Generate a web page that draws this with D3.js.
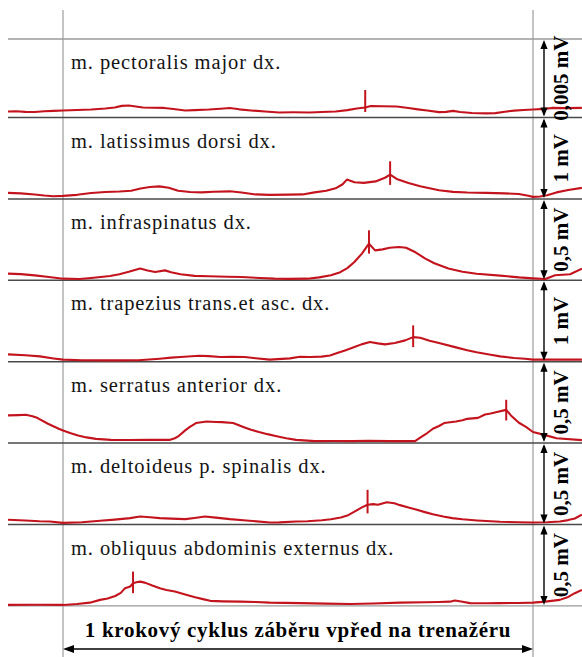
<!DOCTYPE html>
<html>
<head>
<meta charset="utf-8">
<script src="https://cdn.jsdelivr.net/npm/d3@7"></script>
<style>
  html, body { margin: 0; padding: 0; background: #fff; }
  svg { display: block; }
</style>
</head>
<body>
<svg id="chart" width="582" height="657"></svg>
<script>
// Muscle names, one EMG envelope per row
const muscles = [
  "m. pectoralis major dx.",
  "m. latissimus dorsi dx.",
  "m. infraspinatus dx.",
  "m. trapezius trans.et asc. dx.",
  "m. serratus anterior dx.",
  "m. deltoideus p. spinalis dx.",
  "m. obliquus abdominis externus dx."
];

// Calibration bar of each row (full row height), text and value in µV
const scaleLabels = ["0,005 mV", "1 mV", "0,5 mV", "1 mV", "0,5 mV", "0,5 mV", "0,5 mV"];
const scaleMicroV = [5, 1000, 500, 1000, 500, 500, 500];

// Envelopes: [% of stroke cycle, amplitude in µV]
const pectoralis = [[-11.7,0.38],[-10,0.40],[-8,0.36],[-6,0.35],[-4,0.40],[-2,0.42],[0,0.45],[3,0.48],[6,0.51],[9,0.57],[11,0.64],[12.5,0.74],[14,0.76],[15.5,0.70],[17,0.64],[19,0.62],[21.5,0.61],[23.5,0.54],[26,0.45],[28,0.47],[31,0.51],[33.5,0.56],[35.5,0.61],[37.5,0.52],[40,0.45],[43,0.38],[46,0.32],[49,0.33],[52.5,0.32],[55,0.35],[58,0.38],[60.5,0.47],[62.5,0.57],[64.3,0.64],[65.5,0.73],[68,0.72],[71,0.70],[73.5,0.60],[75.5,0.52],[77.5,0.45],[80,0.34],[81.5,0.36],[83,0.42],[84.5,0.35],[87,0.29],[90,0.26],[92,0.28],[94,0.37],[96,0.44],[98,0.48],[100,0.51],[102.5,0.55],[104,0.61],[107,0.60],[110.4,0.61]];

const latissimus = [[-11.7,74],[-9,68],[-6,55],[-4,42],[-2,32],[0,37],[3,50],[6,72],[9,84],[12,90],[14.5,100],[16.5,128],[18.5,147],[20.5,154],[22.5,138],[24.5,100],[27,84],[29.5,80],[32,88],[35.5,93],[38,78],[41,55],[44,50],[48,52],[51,55],[53.5,80],[56,100],[58,130],[59.5,180],[60.4,237],[62,205],[64,197],[66.5,215],[68.5,260],[69.6,299],[71,245],[73.5,195],[76,155],[78,130],[80,106],[83,86],[86,78],[90,74],[94,68],[97,61],[99,38],[100,25],[101.5,30],[103,45],[105,80],[107.5,110],[110.4,135]];

const infraspinatus = [[-11.7,41],[-9,38],[-6,30],[-3,20],[0,10],[3.5,8],[6,14],[8,20],[10,26],[12,37],[14,52],[16.4,72],[18,60],[19.6,51],[21.7,61],[23,50],[25,37],[28,27],[31,25],[35,22],[38,20],[42,14],[45,10],[48,9],[52,10],[54.5,18],[57,31],[59,50],[60.5,75],[62,112],[63.6,164],[65.1,225],[66.4,184],[68,190],[69.5,200],[71.5,205],[73,200],[75,172],[77,135],[79,105],[82,72],[85,52],[88,40],[93,29],[97,18],[100,12],[102.6,8],[104.7,31],[107.9,37],[110.4,72]];

const trapezius = [[-11.7,90],[-8,80],[-4.9,65],[-2,40],[0,25],[4,18],[8,16],[12,16],[16,18],[20.6,37],[23,50],[25,58],[29,74],[31,68],[33.5,58],[36,60],[38.7,58],[41,42],[44,25],[48.3,41],[50.4,60],[52.6,58],[55,62],[56.8,77],[58.5,110],[60,139],[62,180],[63.5,213],[65.3,241],[67,225],[68.5,213],[70.6,229],[72.8,262],[74.5,302],[76,295],[78,258],[80,230],[83.4,179],[86,140],[88,115],[91,85],[93,65],[96,45],[98.3,37],[100,25],[104,25],[110.4,25]];

const serratus = [[-11.7,170],[-9.5,172],[-7.9,174],[-6.5,165],[-5.5,155],[-3.2,119],[-0.9,88],[0,78],[1.5,62],[3.2,47],[5,35],[7,26],[10.2,20],[14,19],[18.1,20],[22.8,20],[23.8,30],[24.5,41],[26,78],[27,100],[28.3,123],[30.6,133],[32.5,130],[33.8,129],[36.2,123],[38.5,98],[40,82],[41.7,68],[43.5,55],[45.7,41],[47.5,30],[49.6,20],[53.6,12],[58,13],[61.5,12],[65,14],[69.4,12],[72,12],[74.9,12],[76.4,41],[77.5,62],[78.7,88],[80,105],[81.1,123],[83.6,133],[85,140],[86,149],[88.3,155],[89.8,176],[91,182],[92.1,190],[94.3,204],[95.3,170],[97,125],[98.5,100],[100,68],[102.6,49],[105,30],[110.4,18]];

const deltoideus = [[-11.7,29],[-8,25],[-5,20],[-2.8,18],[0,10],[4,14],[7.9,23],[11,30],[14.3,39],[16.4,49],[18.5,45],[20.6,39],[23,36],[26,33],[28,40],[30.2,49],[32.5,42],[35.5,33],[39,25],[44,12],[46,13],[49.6,18],[52,20],[55.1,26],[57,32],[59.1,43],[60.5,55],[62.3,84],[63.6,105],[64.8,121],[66,125],[67,121],[68.9,137],[70.5,130],[71.7,119],[73.5,105],[75.3,90],[77,76],[78.7,63],[80.9,49],[82.8,39],[85,32],[88.1,25],[93,17],[97,14],[100,12],[103,14],[105.7,18],[107.5,27],[108.9,37],[110.4,61]];

const obliquus = [[-11.7,6],[-6,7],[0,6],[3,12],[5.7,20],[7.9,37],[9.5,45],[11.1,61],[12.3,80],[13.2,109],[14.3,119],[14.9,139],[15.6,145],[16.4,149],[17.4,143],[19,125],[20.6,109],[22,98],[23.8,88],[26,70],[28.1,53],[30,40],[31.3,31],[34,28],[37.7,26],[41,24],[44,20],[50.4,17],[56,14],[61.1,12],[66,15],[71.7,20],[77,22],[80,24],[82.3,26],[83.4,33],[85,25],[86.6,17],[90,16],[93,17],[97,18],[100,20],[102.6,26],[105.7,37],[107.5,55],[108.9,78],[110.4,98]];

const traces = [pectoralis, latissimus, infraspinatus, trapezius, serratus, deltoideus, obliquus];

// Event markers on each envelope: position (% cycle), lower and upper end (µV)
const tickPos  = [64.3, 69.6, 65.1, 74.5, 94.3, 64.8, 14.9];
const tickLow  = [0.35, 172, 164, 179, 139, 68, 78];
const tickHigh = [1.75, 462, 307, 446, 266, 213, 211];

const cycleLabel = "1 krokový cyklus záběru vpřed na trenažéru";

// ---- layout ----
const W = 582, H = 657;
const svg = d3.select("#chart");
const serif = "'Liberation Serif', 'Times New Roman', serif";
const traceColor = "#c3141e";

// Row boundaries: first row is a bit shorter, the others equal
const rowEdges = [39];
for (let i = 0; i < muscles.length; i++) rowEdges.push(117.5 + 81.4 * i);

const x = d3.scaleLinear().domain([0, 100]).range([63, 533]);

// vertical cycle boundaries
[0, 100].forEach(v => {
  svg.append("line")
    .attr("x1", x(v)).attr("x2", x(v))
    .attr("y1", 10).attr("y2", H)
    .attr("stroke", "#8a8a8a").attr("stroke-width", 1);
});

// row separators
rowEdges.forEach((y, i) => {
  const outer = (i === 0 || i === rowEdges.length - 1);
  svg.append("line")
    .attr("x1", 8).attr("x2", W)
    .attr("y1", y).attr("y2", y)
    .attr("stroke", outer ? "#9a9a9a" : "#4a4a4a")
    .attr("stroke-width", outer ? 1.4 : 1.5);
});

const line = d3.line().curve(d3.curveLinear);

function vArrow(g, xPos, y1, y2, len, half) {
  g.append("line").attr("x1", xPos).attr("x2", xPos)
    .attr("y1", y1 + 2).attr("y2", y2 - 2)
    .attr("stroke", "#000").attr("stroke-width", 1.4);
  g.append("path")
    .attr("d", `M${xPos},${y1}L${xPos - half},${y1 + len}L${xPos + half},${y1 + len}Z`)
    .attr("fill", "#000");
  g.append("path")
    .attr("d", `M${xPos},${y2}L${xPos - half},${y2 - len}L${xPos + half},${y2 - len}Z`)
    .attr("fill", "#000");
}

muscles.forEach((name, i) => {
  const top = rowEdges[i], bottom = rowEdges[i + 1];
  const y = d3.scaleLinear().domain([0, scaleMicroV[i]]).range([bottom, top]);
  const g = svg.append("g").attr("class", "row");

  g.append("text")
    .attr("x", 71).attr("y", top + 30)
    .attr("font-family", serif).attr("font-size", 20.5)
    .attr("letter-spacing", 0.9)
    .attr("fill", "#141414")
    .text(name);

  line.x(d => x(d[0])).y(d => y(d[1]));
  g.append("path")
    .attr("d", line(traces[i]))
    .attr("fill", "none")
    .attr("stroke", traceColor)
    .attr("stroke-width", 2.1)
    .attr("stroke-linejoin", "round");

  g.append("line")
    .attr("x1", x(tickPos[i])).attr("x2", x(tickPos[i]))
    .attr("y1", y(tickLow[i])).attr("y2", y(tickHigh[i]))
    .attr("stroke", traceColor).attr("stroke-width", 2);

  // calibration bar spanning the full row height
  vArrow(g, 544, y(scaleMicroV[i]) + 1, y(0) - 1, 9, 3.6);
  g.append("text")
    .attr("transform", `translate(568,${(top + bottom) / 2}) rotate(-90)`)
    .attr("text-anchor", "middle")
    .attr("font-family", serif).attr("font-size", 21)
    .attr("font-weight", "bold")
    .attr("fill", "#000")
    .text(scaleLabels[i]);
});

// stroke cycle caption and span arrow
svg.append("text")
  .attr("x", (x(0) + x(100)) / 2).attr("y", 637)
  .attr("text-anchor", "middle")
  .attr("font-family", serif).attr("font-size", 21)
  .attr("font-weight", "bold").attr("letter-spacing", 0.7)
  .attr("fill", "#000")
  .text(cycleLabel);

const ay = 649, x0 = x(0), x1 = x(100);
svg.append("line").attr("x1", x0 + 3).attr("x2", x1 - 3)
  .attr("y1", ay).attr("y2", ay)
  .attr("stroke", "#000").attr("stroke-width", 1.4);
svg.append("path").attr("d", `M${x0},${ay}L${x0 + 11},${ay - 4}L${x0 + 11},${ay + 4}Z`).attr("fill", "#000");
svg.append("path").attr("d", `M${x1},${ay}L${x1 - 11},${ay - 4}L${x1 - 11},${ay + 4}Z`).attr("fill", "#000");
</script>
</body>
</html>
